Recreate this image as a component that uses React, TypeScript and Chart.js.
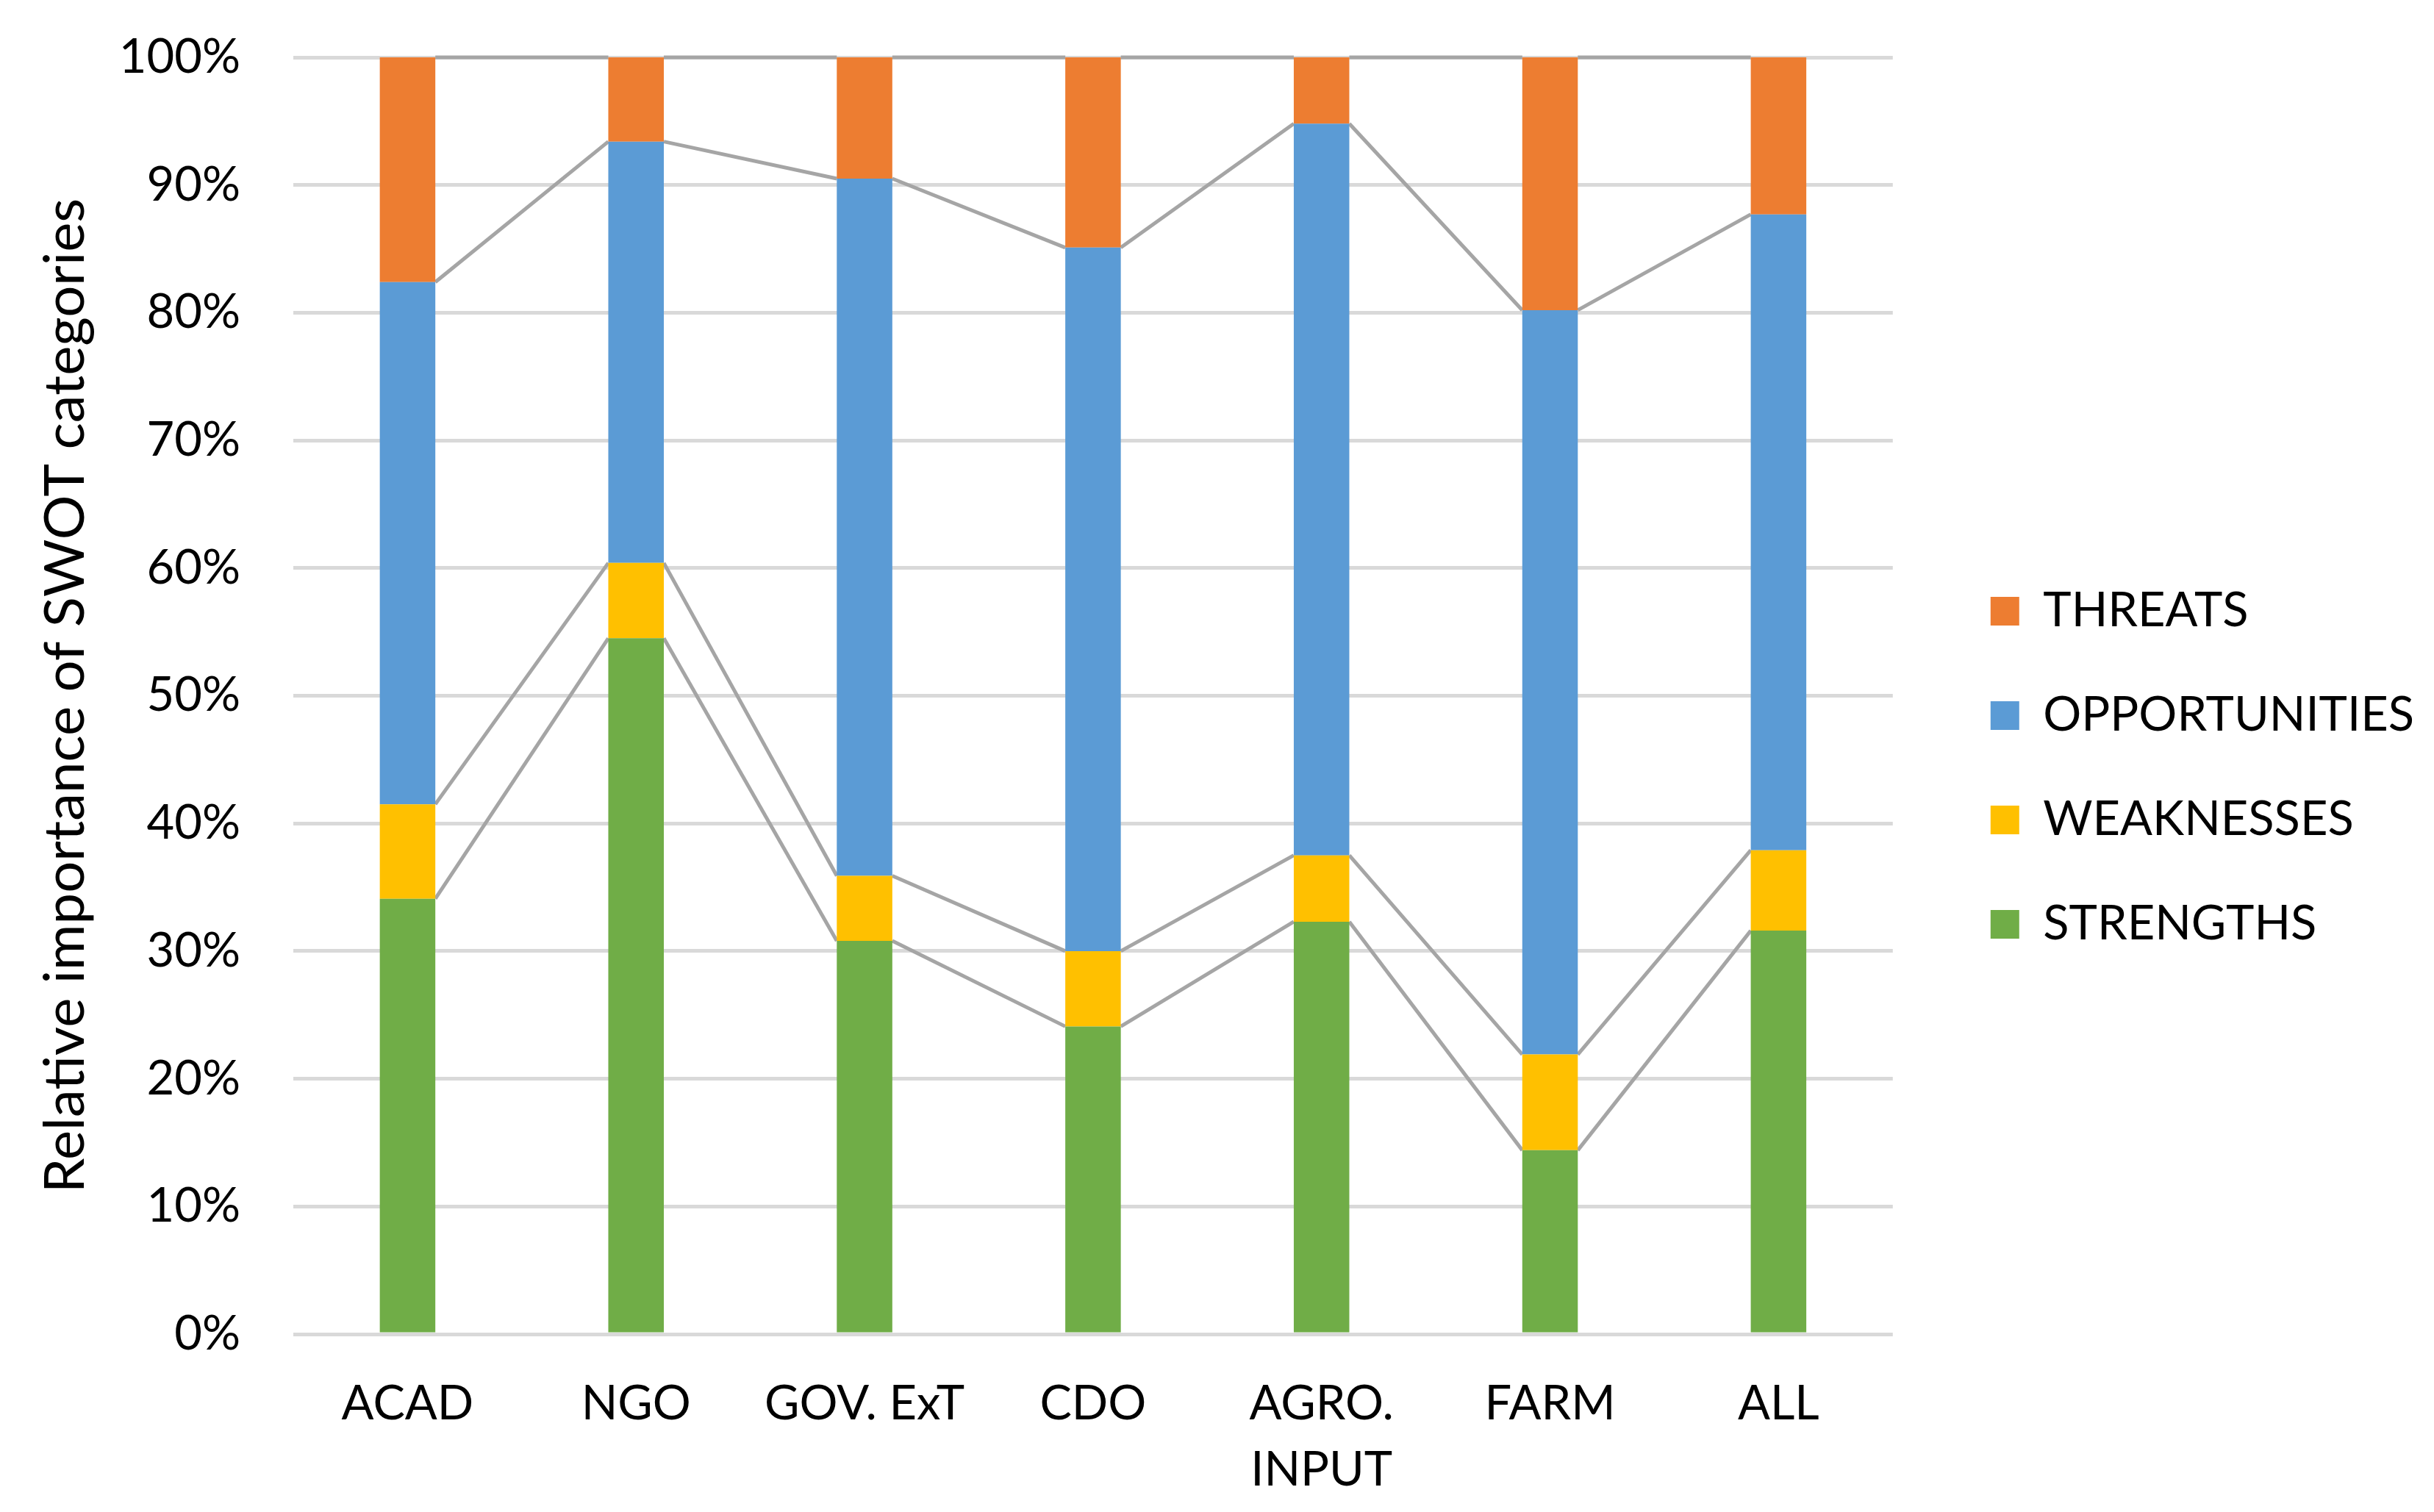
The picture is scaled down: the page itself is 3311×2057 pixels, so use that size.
import { useEffect, useRef } from 'react';
import { Chart, registerables } from 'chart.js';

Chart.register(...registerables);

const categories = ['ACAD', 'NGO', 'GOV. ExT', 'CDO', ['AGRO.', 'INPUT'], 'FARM', 'ALL'];
const strengths = [34.1, 54.5, 30.8, 24.1, 32.3, 14.4, 31.6];
const weaknesses = [7.4, 5.9, 5.1, 5.9, 5.2, 7.5, 6.3];
const opportunities = [40.9, 33.0, 54.6, 55.1, 57.3, 58.3, 49.8];
const threats = [17.6, 6.6, 9.5, 14.9, 5.2, 19.8, 12.3];
const yTicks = [0, 10, 20, 30, 40, 50, 60, 70, 80, 90, 100];

const FONT = 'Lato, "Open Sans", sans-serif';

// Excel-style series lines joining the tops of each stacked segment
const seriesLines = {
  id: 'seriesLines',
  beforeDatasetsDraw(chart: any) {
    const ctx = chart.ctx;
    ctx.save();
    ctx.strokeStyle = '#a5a5a5';
    ctx.lineWidth = 5;
    chart.data.datasets.forEach((_: any, i: number) => {
      const bars = chart.getDatasetMeta(i).data;
      for (let j = 0; j < bars.length - 1; j++) {
        const a = bars[j];
        const b = bars[j + 1];
        ctx.beginPath();
        ctx.moveTo(a.x + a.width / 2, a.y);
        ctx.lineTo(b.x - b.width / 2, b.y);
        ctx.stroke();
      }
    });
    ctx.restore();
  },
};

export default function App() {
  const canvasRef = useRef<HTMLCanvasElement>(null);

  useEffect(() => {
    document.body.style.margin = '0';
    if (!canvasRef.current) return;
    const ctx = canvasRef.current.getContext('2d');
    if (!ctx) return;

    const chart = new Chart(ctx, {
      type: 'bar',
      data: {
        labels: categories as any,
        datasets: [
          { label: 'STRENGTHS', data: strengths, backgroundColor: '#70ad47' },
          { label: 'WEAKNESSES', data: weaknesses, backgroundColor: '#ffc000' },
          { label: 'OPPORTUNITIES', data: opportunities, backgroundColor: '#5b9bd5' },
          { label: 'THREATS', data: threats, backgroundColor: '#ed7d31' },
        ].map(d => ({ ...d, borderWidth: 0, barPercentage: 1, categoryPercentage: 0.243 })),
      },
      options: {
        animation: false,
        responsive: true,
        maintainAspectRatio: false,
        layout: { padding: { left: 10, top: 32, right: 17, bottom: 0 } },
        plugins: {
          legend: {
            position: 'right',
            reverse: true,
            labels: {
              boxWidth: 39,
              boxHeight: 39,
              padding: 77,
              color: '#000',
              font: { family: FONT, size: 65 },
            },
          },
          tooltip: { enabled: false },
        },
        scales: {
          x: {
            stacked: true,
            grid: { display: false },
            border: { display: false },
            ticks: {
              color: '#000',
              padding: 43,
              font: { family: FONT, size: 65, lineHeight: 1.37 },
              maxRotation: 0,
            },
            afterFit: (scale: any) => {
              scale.height = 242;
            },
          },
          y: {
            stacked: true,
            min: 0,
            max: 100,
            afterBuildTicks: (scale: any) => {
              scale.ticks = yTicks.map(v => ({ value: v }));
            },
            grid: { color: '#d9d9d9', lineWidth: 5, drawTicks: false },
            border: { display: false },
            ticks: {
              color: '#000',
              padding: 72,
              font: { family: FONT, size: 65 },
              callback: (v: any) => v + '%',
            },
            title: {
              display: true,
              text: 'Relative importance of SWOT categories',
              color: '#000',
              font: { family: FONT, size: 76 },
              padding: { top: 34, bottom: 20 },
            },
            afterFit: (scale: any) => {
              scale.width = 389;
              scale.paddingTop = 78;
              scale.paddingBottom = 0;
            },
          },
          gap: {
            position: 'right',
            display: false,
            afterFit: (scale: any) => {
              scale.width = 56;
            },
          },
        },
      },
      plugins: [seriesLines],
    });

    return () => chart.destroy();
  }, []);

  return (
    <div style={{ width: 3311, height: 2057, position: 'relative', background: '#fff' }}>
      <canvas ref={canvasRef} />
    </div>
  );
}
